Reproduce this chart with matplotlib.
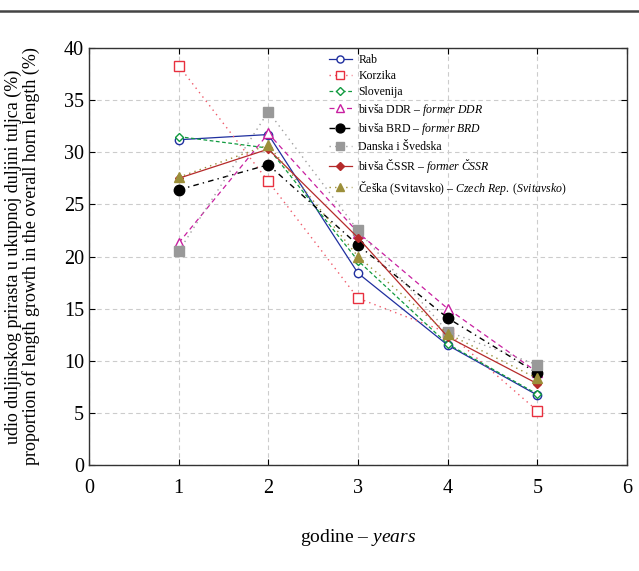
import matplotlib
matplotlib.use("Agg")
import matplotlib.pyplot as plt
from matplotlib.lines import Line2D

plt.rcParams['font.family'] = ['Liberation Serif', 'DejaVu Serif']
plt.rcParams['mathtext.fontset'] = 'custom'
plt.rcParams['mathtext.rm'] = 'Liberation Serif'
plt.rcParams['mathtext.it'] = 'Liberation Serif:italic'

years = [1, 2, 3, 4, 5]
rab = [31.2, 31.7, 18.4, 11.5, 6.7]
korzika = [38.3, 27.2, 16.0, 12.7, 5.2]
slovenija = [31.5, 30.4, 19.6, 11.6, 6.8]
ddr = [21.3, 31.8, 22.3, 15.0, 8.9]
brd = [26.4, 28.8, 21.1, 14.1, 8.8]
danska = [20.5, 33.9, 22.5, 12.8, 9.6]
cssr = [27.5, 30.3, 21.8, 12.3, 7.8]
ceska = [27.6, 30.7, 20.0, 12.6, 8.3]

labels = [
    'Rab',
    'Korzika',
    'Slovenija',
    r'bivša DDR – $\it{former\ DDR}$',
    r'bivša BRD – $\it{former\ BRD}$',
    'Danska i Švedska',
    r'bivša ČSSR – $\it{former\ ČSSR}$',
    r'Češka (Svitavsko) – $\it{Czech\ Rep.\ (Svitavsko)}$',
]

fig = plt.figure(figsize=(6.39, 5.71), dpi=100)
ax = fig.add_axes([89 / 639, 1 - 465 / 571, (627 - 89) / 639, (465 - 48) / 571])

# top rule of the page
fig.add_artist(Line2D([0, 1], [1 - 11 / 571, 1 - 11 / 571], color='#444444', lw=1.8))

ax.plot(years, rab, color='#1f2f9f', lw=0.9, ls='-', marker='o', ms=6,
        mfc='white', mec='#1f2f9f', label=labels[0], zorder=3)
ax.plot(years, korzika, color='#ef5a6a', lw=1.0, ls=(0, (1, 3)), marker='s', ms=7,
        mfc='white', mec='#e8303f', label=labels[1], zorder=3)
ax.plot(years, slovenija, color='#109a3f', lw=0.9, ls=(0, (3, 2)), marker='D', ms=4.5,
        mfc='white', mec='#109a3f', label=labels[2], zorder=3)
ax.plot(years, ddr, color='#c81fa0', lw=0.9, ls=(0, (4, 3)), marker='^', ms=6.5,
        mfc='white', mec='#c81fa0', label=labels[3], zorder=3)
ax.plot(years, brd, color='black', lw=1.0, ls=(0, (4, 3, 1, 3)), marker='o', ms=7.5,
        mfc='black', mec='black', label=labels[4], zorder=3)
ax.plot(years, danska, color='#a0a0a0', lw=1.0, ls=(0, (1, 3)), marker='s', ms=7.5,
        mfc='#999999', mec='#999999', label=labels[5], zorder=3)
ax.plot(years, cssr, color='#b52a2a', lw=0.9, ls='-', marker='D', ms=4.5,
        mfc='#b52a2a', mec='#b52a2a', label=labels[6], zorder=3)
ax.plot(years, ceska, color='#9c8f3a', lw=1.0, ls=(0, (1, 3)), marker='^', ms=6.5,
        mfc='#9c8f3a', mec='#9c8f3a', label=labels[7], zorder=3)

ax.set_xlim(0, 6)
ax.set_ylim(0, 40)
ax.set_xticks(range(0, 7))
ax.set_yticks(range(0, 41, 5))
ax.grid(True, color='#cccccc', ls=(0, (4, 3)), lw=0.8)
ax.tick_params(axis='both', which='both', labelsize=14.5, direction='in',
               top=True, right=True, length=4)
ax.tick_params(axis='x', pad=10)
for s in ax.spines.values():
    s.set_color('#333333')
    s.set_linewidth(1.0)

ax.set_xlabel(r'godine – $\it{years}$', fontsize=14, labelpad=21)
ax.set_ylabel('udio duljinskog prirasta u ukupnoj duljini tuljca (%)\n'
              'proportion of length growth in the overall horn length (%)',
              fontsize=13, labelpad=17, linespacing=1.0)

ax.legend(loc='upper left', bbox_to_anchor=(0.43, 1.005), frameon=False,
          fontsize=8.5, handlelength=2.0, labelspacing=0.32, borderpad=0.2,
          handletextpad=0.5, markerscale=0.85)

fig.savefig('out.png', dpi=100)
